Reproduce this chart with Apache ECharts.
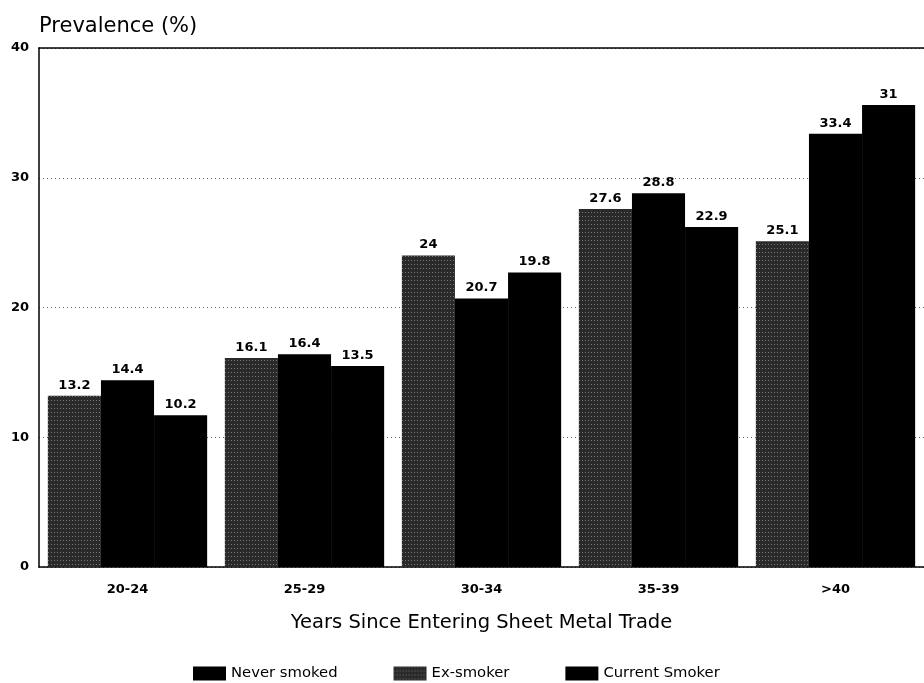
<!DOCTYPE html>
<html>
<head>
<meta charset="utf-8">
<title>Prevalence by years since entering sheet metal trade</title>
<script src="https://cdn.jsdelivr.net/npm/echarts@6/dist/echarts.min.js"></script>
<style>
  html, body { margin: 0; padding: 0; background: #fff; }
  #chart { width: 924px; height: 683px; }
</style>
</head>
<body>
<div id="chart"></div>
<script>
// categories on the x axis
const categories = ['20-24', '25-29', '30-34', '35-39', '>40'];

// bar heights (%)
const exSmoker = [13.2, 16.1, 24, 27.6, 25.1];
const neverSmoked = [14.4, 16.4, 20.7, 28.8, 33.4];
const currentSmoker = [11.7, 15.5, 22.7, 26.2, 35.6];

// the printed labels above the bars (the third series is labelled lower than it is drawn)
const exLabels = ['13.2', '16.1', '24', '27.6', '25.1'];
const neverLabels = ['14.4', '16.4', '20.7', '28.8', '33.4'];
const currentLabels = ['10.2', '13.5', '19.8', '22.9', '31'];

const yTicks = [0, 10, 20, 30, 40];

const font = 'DejaVu Sans';

const myChart = echarts.init(document.getElementById('chart'));

// label above each bar, text taken from its own array
function barLabel(texts) {
  return {
    show: true,
    position: 'top',
    distance: 4,
    fontFamily: font,
    fontSize: 13,
    fontWeight: 'bold',
    color: '#000',
    formatter: function (p) {
      return texts[p.dataIndex];
    }
  };
}

const option = {
  animation: false,
  backgroundColor: '#fff',
  title: {
    text: 'Prevalence (%)',
    left: 34,
    top: 11,
    textStyle: {
      fontFamily: font,
      fontSize: 21,
      fontWeight: 'normal',
      color: '#000'
    }
  },
  legend: {
    data: ['Never smoked', 'Ex-smoker', 'Current Smoker'],
    left: 188,
    top: 661,
    itemWidth: 33,
    itemHeight: 14,
    itemGap: 56,
    icon: 'rect',
    textStyle: {
      fontFamily: font,
      fontSize: 14.8,
      color: '#000'
    }
  },
  grid: {
    left: 39,
    right: -8,
    top: 48,
    bottom: 116
  },
  xAxis: [
    {
      type: 'category',
      data: categories,
      position: 'bottom',
      name: 'Years Since Entering Sheet Metal Trade',
      nameLocation: 'middle',
      nameGap: 46,
      nameTextStyle: {
        fontFamily: font,
        fontSize: 19.5,
        color: '#000'
      },
      axisLine: { show: true, lineStyle: { color: '#000', width: 1.5 } },
      axisTick: { show: false },
      axisLabel: {
        margin: 16,
        fontFamily: font,
        fontSize: 13,
        fontWeight: 'bold',
        color: '#000'
      }
    },
    {
      // only draws the solid line along the top of the plot
      type: 'category',
      data: categories,
      position: 'top',
      axisLine: { show: true, lineStyle: { color: '#000', width: 1.5 } },
      axisTick: { show: false },
      axisLabel: { show: false }
    }
  ],
  yAxis: {
    type: 'value',
    min: yTicks[0],
    max: yTicks[yTicks.length - 1],
    interval: 10,
    axisLine: { show: true, lineStyle: { color: '#000', width: 1.5 } },
    axisTick: { show: false },
    axisLabel: {
      margin: 10,
      fontFamily: font,
      fontSize: 13,
      fontWeight: 'bold',
      color: '#000'
    },
    splitLine: {
      show: true,
      lineStyle: { color: '#666', type: [1, 3], width: 1 }
    }
  },
  series: [
    {
      name: 'Ex-smoker',
      type: 'bar',
      data: exSmoker,
      barGap: '0%',
      barCategoryGap: '10%',
      itemStyle: {
        color: '#2a2a2a',
        decal: {
          symbol: 'rect',
          symbolSize: 1,
          color: 'rgba(210,210,210,0.45)',
          dashArrayX: [1, 2],
          dashArrayY: [1, 3]
        }
      },
      label: barLabel(exLabels)
    },
    {
      name: 'Never smoked',
      type: 'bar',
      data: neverSmoked,
      barGap: '0%',
      barCategoryGap: '10%',
      itemStyle: { color: '#000' },
      label: barLabel(neverLabels)
    },
    {
      name: 'Current Smoker',
      type: 'bar',
      data: currentSmoker,
      barGap: '0%',
      barCategoryGap: '10%',
      itemStyle: { color: '#000' },
      label: barLabel(currentLabels)
    }
  ]
};

myChart.setOption(option);
</script>
</body>
</html>
